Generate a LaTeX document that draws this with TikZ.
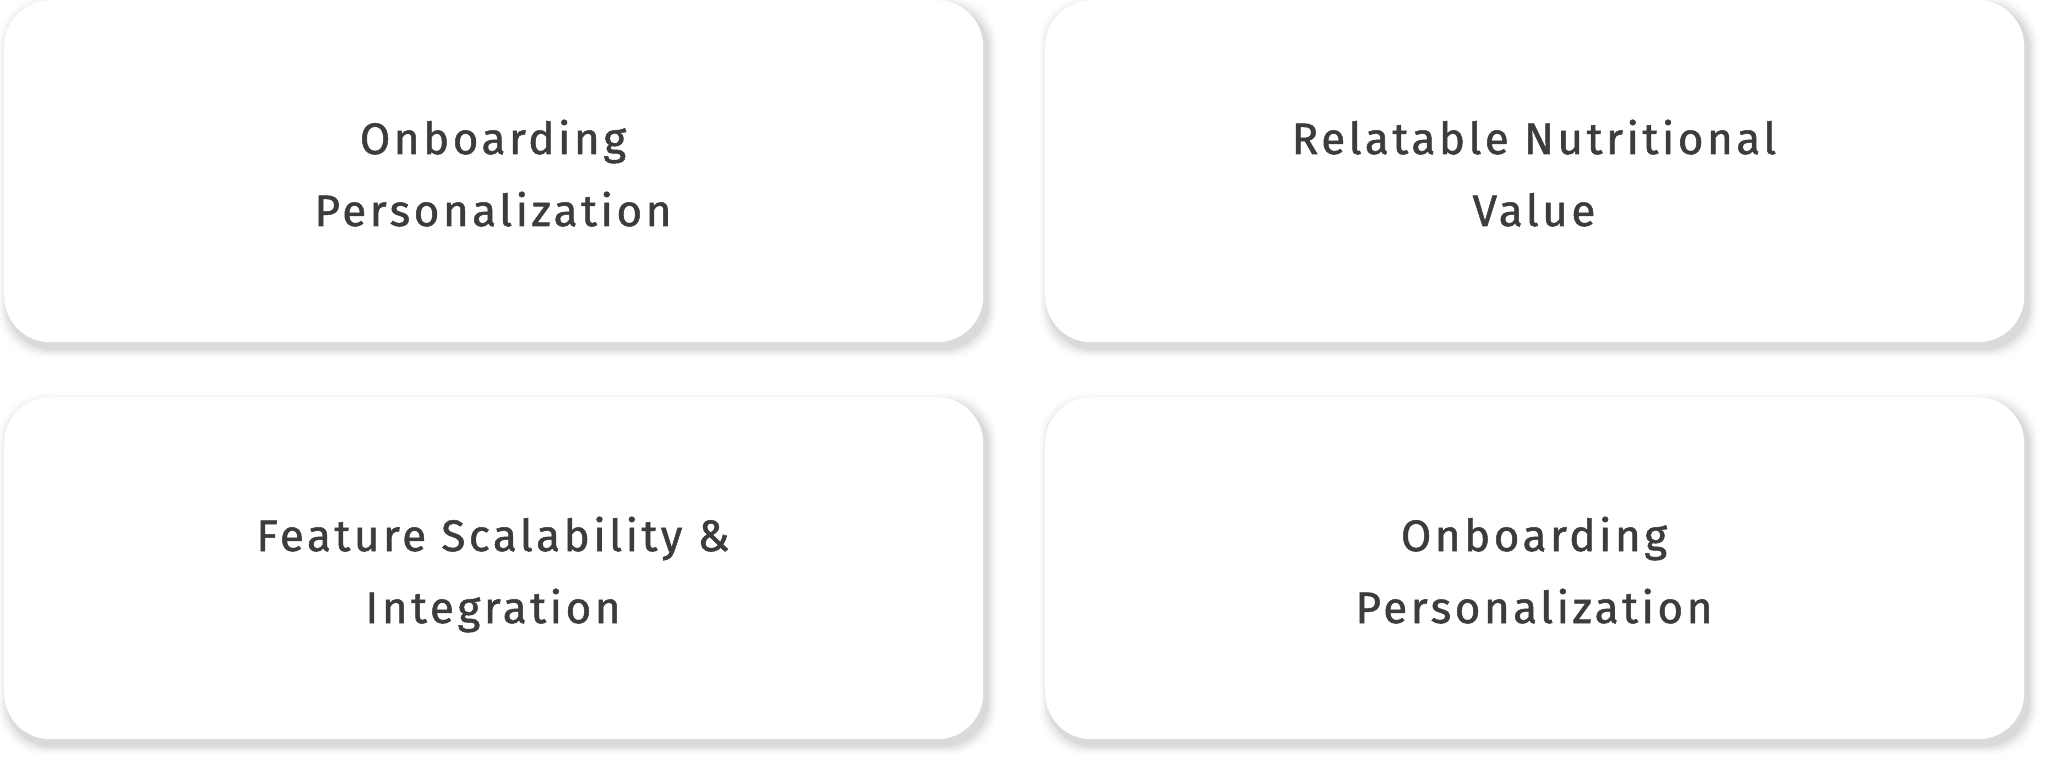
\documentclass[tikz,border=0pt]{standalone}
\usepackage{fontspec}
\setmainfont[LetterSpace=8,FakeBold=1.2]{Fira Sans}
\definecolor{txt}{HTML}{3C3C3C}
\begin{document}
\begin{tikzpicture}[x=1pt,y=-1pt,
  card/.style={fill=white, rounded corners=46pt, minimum width=979pt, minimum height=342pt, inner sep=0pt, anchor=north west},
  lbl/.style={font=\fontsize{44}{73}\selectfont, text=txt, anchor=base, inner sep=0pt},
  sh/.style={fill=black, rounded corners=46pt, minimum width=979pt, minimum height=342pt, anchor=north west, draw=none}]
\useasboundingbox (0,0) rectangle (2046,762);
\foreach \px/\py in {4/0,1045/0,4/397,1045/397}{
  \foreach \d/\o in {10/0.012,8/0.02,6/0.03,4/0.04,2/0.05}{
    \node[sh, opacity=\o, minimum width=979pt+2*\d pt, minimum height=342pt+2*\d pt] at (\px+4-\d,\py+6-\d) {};
  }
}
\node[card] (a) at (4,0) {};
\node[card] (b) at (1045,0) {};
\node[card] (c) at (4,397) {};
\node[card] (d) at (1045,397) {};
\node[lbl] (a1) at (493,154) {Onboarding};
\node[lbl] (a2) at (493,226) {Personalization};
\node[lbl] (b1) at (1534,154) {Relatable Nutritional};
\node[lbl] (b2) at (1534,226) {Value};
\node[lbl] (c1) at (493,551) {Feature Scalability \&};
\node[lbl] (c2) at (493,623) {Integration};
\node[lbl] (d1) at (1534,551) {Onboarding};
\node[lbl] (d2) at (1534,623) {Personalization};
\end{tikzpicture}
\end{document}
